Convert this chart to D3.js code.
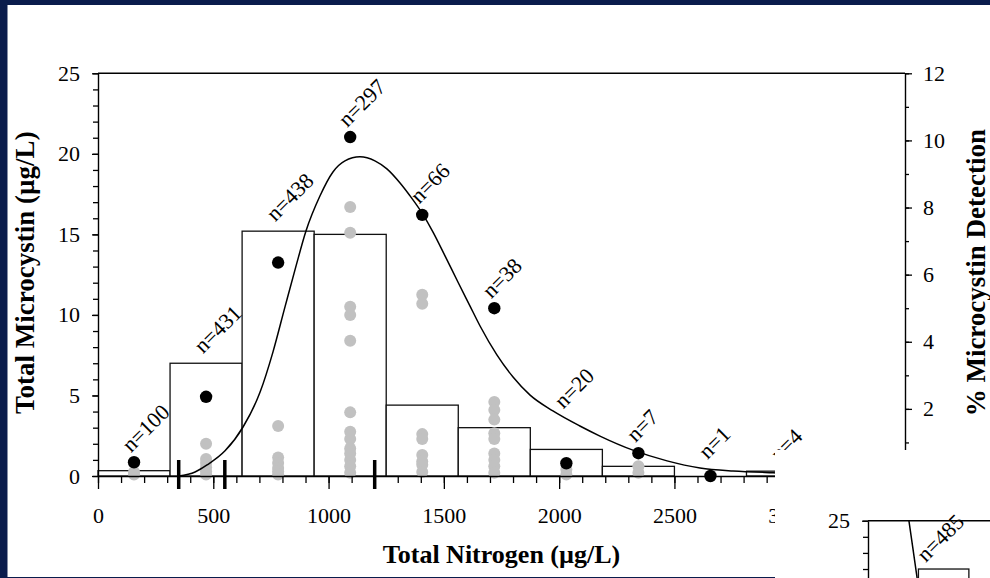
<!DOCTYPE html>
<html>
<head>
<meta charset="utf-8">
<script src="https://cdn.jsdelivr.net/npm/d3@7"></script>
<style>
  html, body { margin: 0; padding: 0; background: #0a1c4c; }
  svg { display: block; }
  text { font-family: "Liberation Serif", "Times New Roman", Times, serif; fill: #000; }
</style>
</head>
<body>
<svg id="chart" width="990" height="578"></svg>
<script>
// ---- Total nitrogen bins (µg/L) ----
const binEdges = [0, 312.5, 625, 937.5, 1250, 1562.5, 1875, 2187.5, 2500, 2812.5, 3125];
const binCounts = [100, 431, 438, 297, 66, 38, 20, 7, 1, 4];
// bar height per bin, total microcystin (µg/L)
const barValues = [0.33, 7.0, 15.2, 15.0, 4.4, 3.0, 1.65, 0.6, 0, 0.3];
// % microcystin detection per bin
const detectionPct = [0.41, 2.36, 6.36, 10.1, 7.78, 5.0, 0.38, 0.68, 0, 0];
// individual detected microcystin values per bin (µg/L)
const detectedValues = [
  [0.25, 0.1],
  [2.0, 1.05, 0.8, 0.55, 0.3, 0.1],
  [3.1, 1.15, 0.8, 0.5, 0.3, 0.1],
  [16.7, 15.1, 10.5, 10.0, 8.4, 3.95, 2.75, 2.3, 1.7, 1.4, 1.0, 0.6, 0.2],
  [11.25, 10.7, 2.6, 2.3, 1.3, 0.9, 0.7, 0.25],
  [4.6, 4.1, 3.5, 2.65, 2.3, 1.4, 1.0, 0.6, 0.2],
  [0.4, 0.1],
  [0.6, 0.2],
  [],
  []
];
// TN change points marked on the axis
const changePoints = [350, 550, 1200];
// fitted detection curve (TN µg/L, % detection)
const curveTN  = [350, 421, 473, 551, 629, 703, 759, 811, 859, 902, 963, 1019, 1071, 1136, 1201, 1253, 1310, 1353, 1405, 1453, 1505, 1561, 1613, 1657, 1730, 1800, 1874, 1973, 2090, 2177, 2320, 2468, 2611, 2754, 2927, 3200, 3500];
const curvePct = [0, 0.12, 0.33, 0.75, 1.46, 2.50, 3.70, 5.04, 6.26, 7.30, 8.35, 9.06, 9.39, 9.51, 9.39, 9.15, 8.73, 8.35, 7.84, 7.27, 6.56, 5.78, 5.07, 4.47, 3.61, 2.95, 2.41, 1.94, 1.49, 1.19, 0.77, 0.45, 0.24, 0.15, 0.10, 0.06, 0.03];

// axis ticks
const xMajorTicks = [0, 500, 1000, 1500, 2000, 2500, 3000, 3500];
const leftMajorTicks = [0, 5, 10, 15, 20, 25];
const rightMajorTicks = [0, 2, 4, 6, 8, 10, 12];

// ---- second panel (total phosphorus, partly shown) ----
const tpBinEdges = [12.5, 25];
const tpBarValues = [22];
const tpCounts = [485];
const tpCurveTP  = [9.9, 11.1, 12.4];
const tpCurvePct = [12.2, 11.2, 10.1];
const tpLeftMajorTicks = [25];

const svg = d3.select("#chart");
const W = 990, H = 578;

// page panel
svg.append("rect").attr("x", 7.5).attr("y", 5).attr("width", W - 7.5).attr("height", 572).attr("fill", "#fff");

const plot = { left: 98, right: 905, top: 73.3, bottom: 476 };

const x = d3.scaleLinear().domain([0, 3500]).range([plot.left, plot.right]);
const yL = d3.scaleLinear().domain([0, 25]).range([plot.bottom, plot.top]);
const yR = d3.scaleLinear().domain([0, 12]).range([plot.bottom, plot.top]);

const g = svg.append("g");

const bins = binCounts.map((n, i) => ({
  n, x0: binEdges[i], x1: binEdges[i + 1], v: barValues[i], pct: detectionPct[i],
  pts: detectedValues[i], mid: (binEdges[i] + binEdges[i + 1]) / 2
}));

// bars
g.selectAll("rect.bar").data(bins.filter(d => d.v > 0)).join("rect")
  .attr("class", "bar")
  .attr("x", d => x(d.x0)).attr("width", d => x(d.x1) - x(d.x0))
  .attr("y", d => yL(d.v)).attr("height", d => yL(0) - yL(d.v))
  .attr("fill", "#fff").attr("stroke", "#111").attr("stroke-width", 1.3);

// detected microcystin values
g.selectAll("g.col").data(bins).join("g").attr("class", "col")
  .selectAll("circle").data(d => d.pts.map(v => ({ v, mid: d.mid }))).join("circle")
  .attr("cx", d => x(d.mid)).attr("cy", d => yL(d.v)).attr("r", 6)
  .attr("fill", "#c1c1c1");

// fitted curve
const line = d3.line().x((d, i) => x(curveTN[i])).y((d, i) => yR(curvePct[i])).curve(d3.curveMonotoneX);
g.append("path").attr("d", line(curveTN)).attr("fill", "none").attr("stroke", "#000").attr("stroke-width", 1.5);

// detection points
g.selectAll("circle.det").data(bins).join("circle").attr("class", "det")
  .attr("cx", d => x(d.mid)).attr("cy", d => yR(d.pct)).attr("r", 6.2).attr("fill", "#000");

// interpolated curve height at a TN value
function curveAt(tn) {
  const i = d3.bisectLeft(curveTN, tn);
  if (i <= 0 || i >= curveTN.length) return null;
  const t = (tn - curveTN[i - 1]) / (curveTN[i] - curveTN[i - 1]);
  return curvePct[i - 1] + t * (curvePct[i] - curvePct[i - 1]);
}

// sample size labels, placed above the highest mark of each bin
g.selectAll("text.n").data(bins).join("text").attr("class", "n")
  .attr("transform", d => {
    const c = curveAt(d.mid);
    const tops = [yL(d.v), yR(d.pct)];
    if (c !== null) tops.push(yR(c));
    const top = Math.min(...tops);
    return `translate(${x(d.mid) - 3},${top - 9}) rotate(-45)`;
  })
  .attr("font-size", 22)
  .text(d => `n=${d.n}`);

// axes
function styleAxis(sel) {
  sel.selectAll("path.domain").attr("stroke", "#000").attr("stroke-width", 1.4);
  sel.selectAll(".tick line").attr("stroke", "#000").attr("stroke-width", 1.3);
  sel.selectAll(".tick text").attr("font-size", 22).attr("font-family", "Liberation Serif, Times New Roman, serif").attr("fill", "#000");
}

// x axis
const xMinor = d3.range(0, 3501, 100);
g.append("g").attr("transform", `translate(0,${plot.bottom})`)
  .call(d3.axisBottom(x).tickValues(xMinor).tickSize(7).tickSizeOuter(0).tickFormat(""))
  .call(styleAxis);
g.append("g").attr("transform", `translate(0,${plot.bottom})`)
  .call(d3.axisBottom(x).tickValues(xMajorTicks).tickSize(13).tickSizeOuter(0).tickPadding(18).tickFormat(d3.format("d")))
  .call(styleAxis)
  .call(s => s.select("path.domain").remove());

// left axis
g.append("g").attr("transform", `translate(${plot.left},0)`)
  .call(d3.axisLeft(yL).tickValues(d3.range(0, 26, 1)).tickSize(5).tickSizeOuter(0).tickFormat(""))
  .call(styleAxis);
g.append("g").attr("transform", `translate(${plot.left},0)`)
  .call(d3.axisLeft(yL).tickValues(leftMajorTicks).tickSize(6).tickSizeOuter(0).tickPadding(12).tickFormat(d3.format("d")))
  .call(styleAxis)
  .call(s => s.select("path.domain").remove());

// right axis
g.append("g").attr("transform", `translate(${plot.right},0)`)
  .call(d3.axisRight(yR).tickValues(d3.range(0, 13, 1)).tickSize(4).tickSizeOuter(0).tickFormat(""))
  .call(styleAxis);
g.append("g").attr("transform", `translate(${plot.right},0)`)
  .call(d3.axisRight(yR).tickValues(rightMajorTicks).tickSize(7).tickSizeOuter(0).tickPadding(11).tickFormat(d3.format("d")))
  .call(styleAxis)
  .call(s => s.select("path.domain").remove());

// top frame line
g.append("line").attr("x1", plot.left).attr("x2", plot.right).attr("y1", plot.top).attr("y2", plot.top)
  .attr("stroke", "#000").attr("stroke-width", 1.4);

// change point markers
g.selectAll("line.cp").data(changePoints).join("line").attr("class", "cp")
  .attr("x1", d => x(d)).attr("x2", d => x(d))
  .attr("y1", plot.bottom - 16).attr("y2", plot.bottom + 13)
  .attr("stroke", "#000").attr("stroke-width", 3.5);

// axis titles
const midY = (plot.top + plot.bottom) / 2 - 2;
g.append("text").attr("transform", `translate(34,${midY}) rotate(-90)`)
  .attr("text-anchor", "middle").attr("font-size", 27).attr("font-weight", "bold")
  .text("Total Microcystin (µg/L)");
g.append("text").attr("transform", `translate(985,${midY}) rotate(-90)`)
  .attr("text-anchor", "middle").attr("font-size", 27).attr("font-weight", "bold")
  .text("% Microcystin Detection");
g.append("text").attr("x", (plot.left + plot.right) / 2).attr("y", 563)
  .attr("text-anchor", "middle").attr("font-size", 26).attr("font-weight", "bold")
  .text("Total Nitrogen (µg/L)");

// ---- second panel, overlapping lower right corner ----
const p2 = { left: 868, top: 520.7 };
const g2 = svg.append("g");
g2.append("rect").attr("x", 775).attr("y", 450).attr("width", W - 775).attr("height", H - 450).attr("fill", "#fff");

const x2 = d3.scaleLinear().domain([0, 200]).range([p2.left, p2.left + 807]);
const y2L = d3.scaleLinear().domain([0, 25]).range([p2.top + 402.7, p2.top]);
const y2R = d3.scaleLinear().domain([0, 12]).range([p2.top + 402.7, p2.top]);

svg.append("defs").append("clipPath").attr("id", "clip2")
  .append("rect").attr("x", p2.left).attr("y", p2.top).attr("width", W - p2.left).attr("height", H - p2.top);

const g2c = g2.append("g").attr("clip-path", "url(#clip2)");
const tpBins = tpCounts.map((n, i) => ({ n, x0: tpBinEdges[i], x1: tpBinEdges[i + 1], v: tpBarValues[i] }));
g2c.selectAll("rect").data(tpBins).join("rect")
  .attr("x", d => x2(d.x0)).attr("width", d => x2(d.x1) - x2(d.x0))
  .attr("y", d => y2L(d.v)).attr("height", d => y2L(0) - y2L(d.v))
  .attr("fill", "#fff").attr("stroke", "#111").attr("stroke-width", 1.3);
const line2 = d3.line().x((d, i) => x2(tpCurveTP[i])).y((d, i) => y2R(tpCurvePct[i]));
g2c.append("path").attr("d", line2(tpCurveTP)).attr("fill", "none").attr("stroke", "#000").attr("stroke-width", 1.5);

g2.selectAll("text.n").data(tpBins).join("text").attr("class", "n")
  .attr("transform", d => `translate(${x2((d.x0 + d.x1) / 2) - 18},${y2L(d.v) - 6}) rotate(-45)`)
  .attr("font-size", 22)
  .text(d => `n=${d.n}`);

g2.append("g").attr("transform", `translate(${p2.left},0)`)
  .call(d3.axisLeft(y2L).tickValues(d3.range(0, 26, 1)).tickSize(5).tickSizeOuter(0).tickFormat(""))
  .call(styleAxis);
g2.append("g").attr("transform", `translate(${p2.left},0)`)
  .call(d3.axisLeft(y2L).tickValues(tpLeftMajorTicks).tickSize(6).tickSizeOuter(0).tickPadding(12).tickFormat(d3.format("d")))
  .call(styleAxis)
  .call(s => s.select("path.domain").remove());
g2.append("line").attr("x1", p2.left).attr("x2", W).attr("y1", p2.top).attr("y2", p2.top)
  .attr("stroke", "#000").attr("stroke-width", 1.4);
</script>
</body>
</html>
